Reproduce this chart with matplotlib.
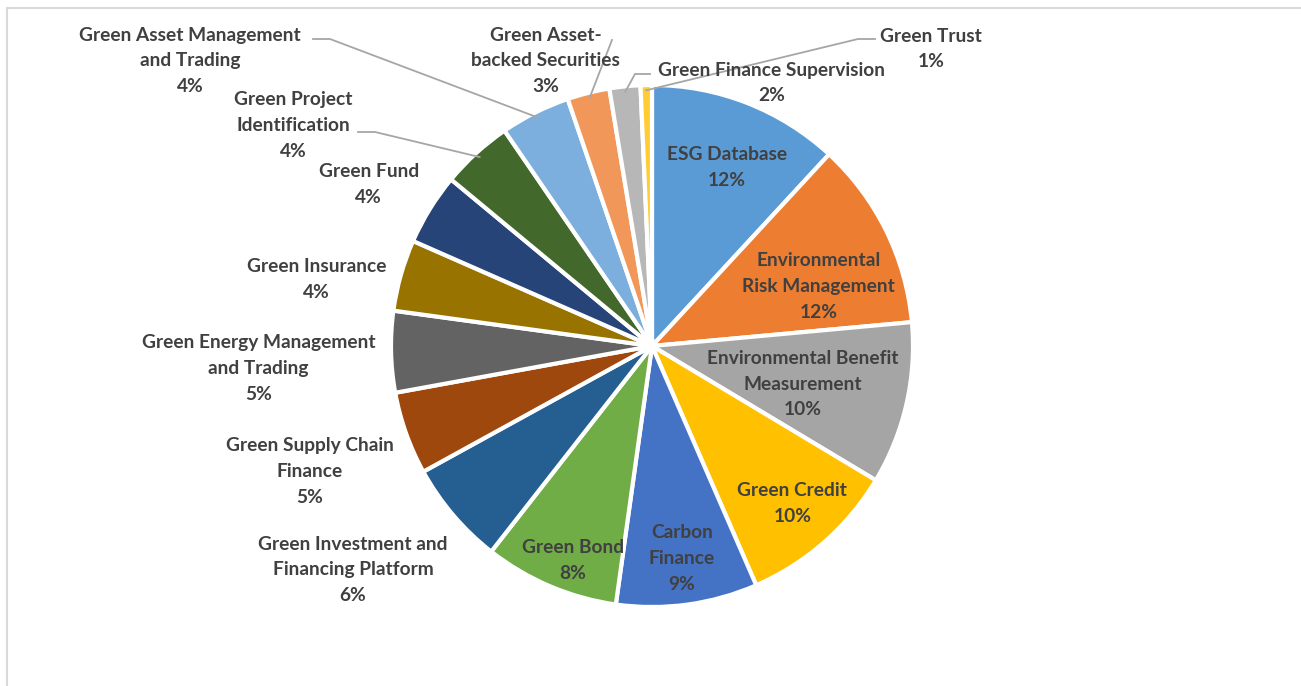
import matplotlib
matplotlib.use("Agg")
import matplotlib.pyplot as plt
import numpy as np
from matplotlib.patches import Rectangle

# Données (parts en %)
categories = [
    "ESG Database", "Environmental\nRisk Management", "Environmental Benefit\nMeasurement",
    "Green Credit", "Carbon\nFinance", "Green Bond", "Green Investment and\nFinancing Platform",
    "Green Supply Chain\nFinance", "Green Energy Management\nand Trading", "Green Insurance",
    "Green Fund", "Green Project\nIdentification", "Green Asset Management\nand Trading",
    "Green Asset-\nbacked Securities", "Green Finance Supervision", "Green Trust",
]
values = [11.8, 11.6, 10.0, 9.8, 8.7, 8.3, 6.4, 5.1, 5.0, 4.4, 4.4, 4.4, 4.3, 2.6, 1.9, 0.7]
colors = [
    "#5B9BD5", "#ED7D31", "#A5A5A5", "#FFC000", "#4472C4", "#70AD47", "#255E91",
    "#9E480E", "#636363", "#997300", "#264478", "#43682B", "#7CAFDD", "#F1975A",
    "#B7B7B7", "#FFCD33",
]

# position des étiquettes (coord. données, rayon = 1)
label_pos = [
    (0.288, 0.685), (0.638, 0.227), (0.577, -0.146), (0.538, -0.604),
    (0.115, -0.815), (-0.304, -0.823), (-1.146, -0.858), (-1.312, -0.481),
    (-1.508, -0.085), (-1.285, 0.254), (-1.085, 0.619), (-1.373, 0.846),
    (-1.769, 1.092), (-0.408, 1.092), (0.458, 1.008), (1.069, 1.138),
]
# lignes de rappel : points côté texte (pixels) pour les petites parts
leaders = {
    11: [(358, 132), (375, 132)],
    12: [(313, 39), (330, 39)],
    13: [(612, 40)],
    14: [(650, 74), (635, 74)],
    15: [(875, 39), (858, 39)],
}

W, H = 1301, 686
cx, cy, R = 652, 346, 261

fig = plt.figure(figsize=(W / 100, H / 100), dpi=100)
ax = fig.add_axes([(cx - R) / W, (H - cy - R) / H, 2 * R / W, 2 * R / H])

wedges, _ = ax.pie(values, colors=colors, startangle=90, counterclock=False,
                   radius=1, wedgeprops=dict(edgecolor="white", linewidth=3))
ax.set_xlim(-1, 1)
ax.set_ylim(-1, 1)
ax.set_aspect("equal")
ax.axis("off")

total = sum(values)
txt_color = "#404040"
for i, (name, v) in enumerate(zip(categories, values)):
    x, y = label_pos[i]
    ax.text(x, y, f"{name}\n{v / total * 100:.0f}%", ha="center", va="center",
            fontsize=13.8, fontweight="bold", color=txt_color, family="Lato",
            linespacing=1.63, clip_on=False)

def to_data(p):
    return ((p[0] - cx) / R, (cy - p[1]) / R)

for i, pts in leaders.items():
    w = wedges[i]
    mid = np.deg2rad((w.theta1 + w.theta2) / 2)
    end = (0.98 * np.cos(mid), 0.98 * np.sin(mid))
    xy = [to_data(p) for p in pts] + [end]
    ax.plot([p[0] for p in xy], [p[1] for p in xy], color="#A6A6A6", lw=1.3,
            clip_on=False)

# cadre gris
fig.add_artist(Rectangle((7 / W, -0.2), 1.2, 1 - 8 / H + 0.2, transform=fig.transFigure,
                         fill=False, edgecolor="#D9D9D9", lw=1.5))

fig.savefig("out.png", dpi=100, facecolor="white")
